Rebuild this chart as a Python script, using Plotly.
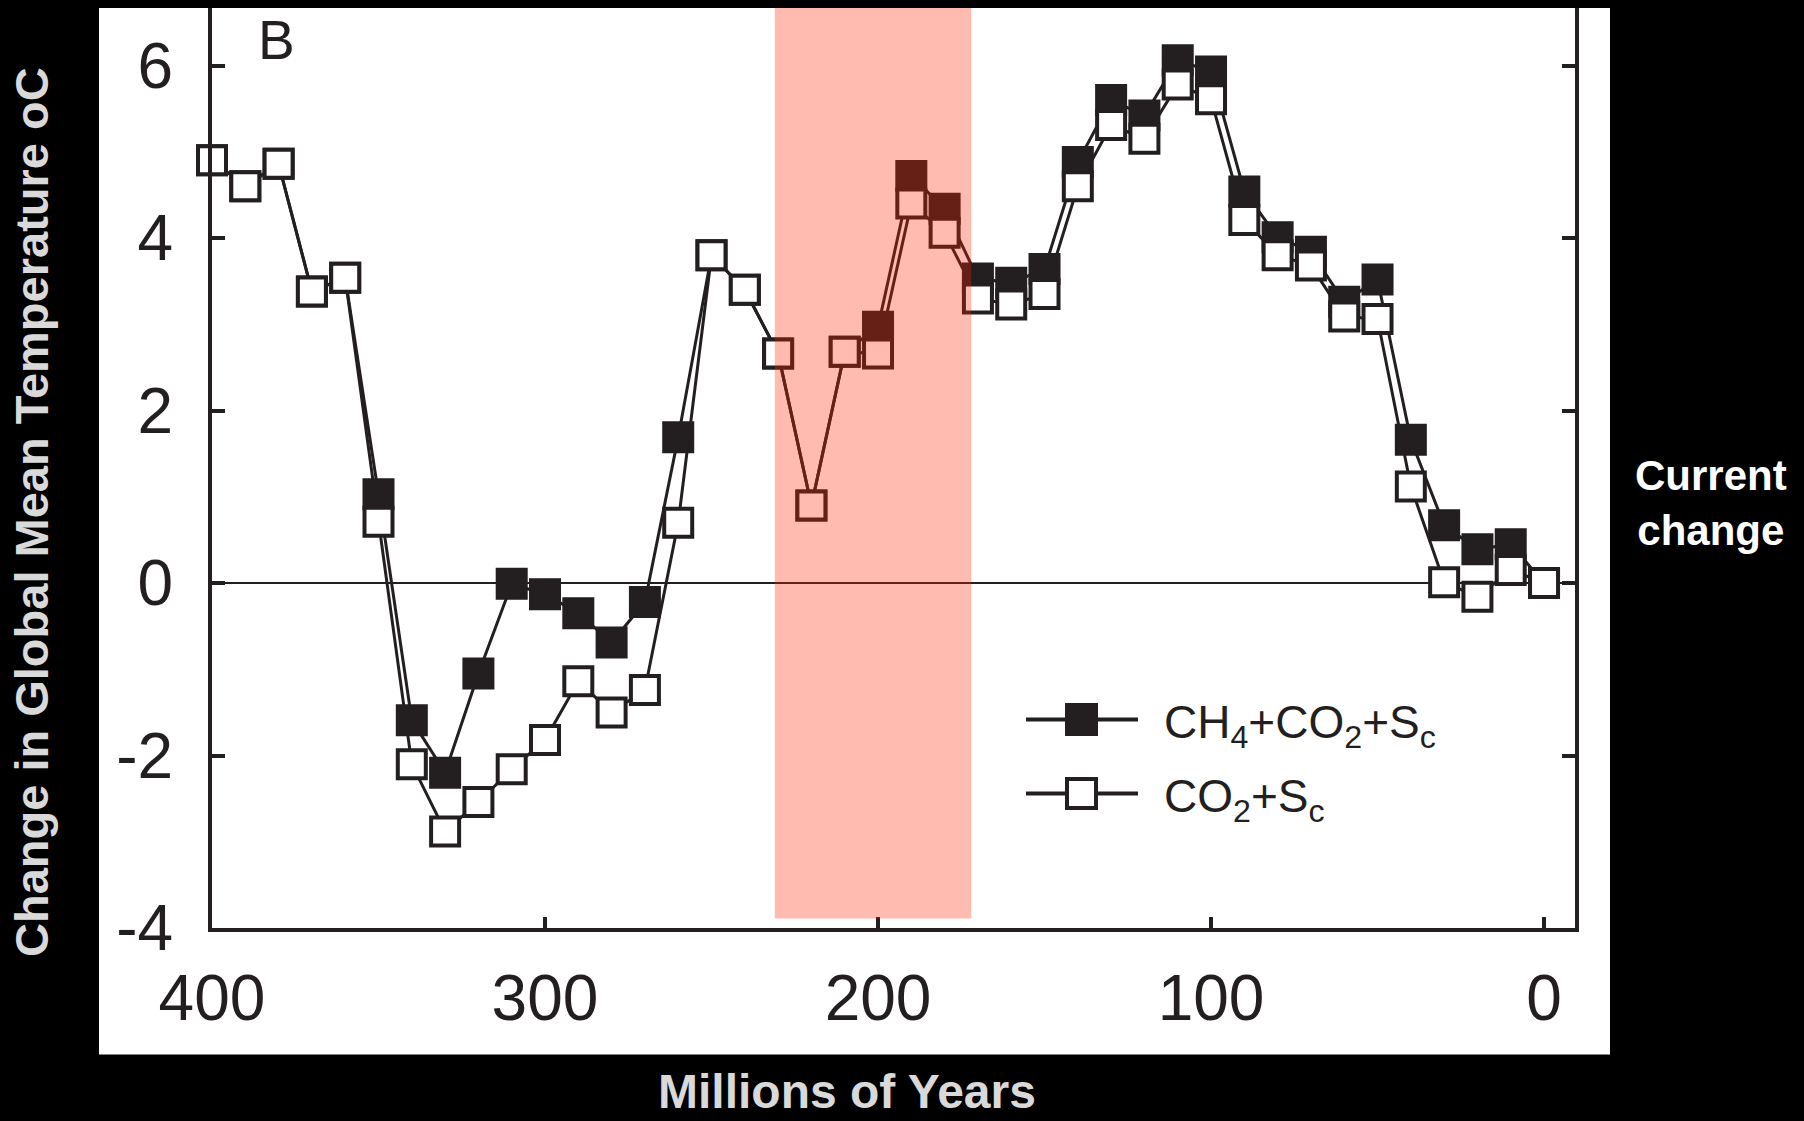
import plotly.graph_objects as go

# Time axis: millions of years before present
age_ma = [400, 390, 380, 370, 360, 350, 340, 330, 320, 310,
          300, 290, 280, 270, 260, 250, 240, 230, 220, 210,
          200, 190, 180, 170, 160, 150, 140, 130, 120, 110,
          100, 90, 80, 70, 60, 50, 40, 30, 20, 10, 0]

# Change in global mean temperature (deg C), CH4 + CO2 + solar constant
ch4_co2_sc = [4.90, 4.60, 4.86, 3.38, 3.54, 1.03, -1.59, -2.20, -1.05, -0.01,
              -0.13, -0.35, -0.69, -0.22, 1.69, 3.80, 3.40, 2.66, 0.90, 2.68,
              2.97, 4.72, 4.34, 3.53, 3.48, 3.64, 4.88, 5.60, 5.42, 6.06,
              5.93, 4.54, 4.01, 3.84, 3.26, 3.52, 1.66, 0.67, 0.39, 0.45, 0.0]

# Change in global mean temperature (deg C), CO2 + solar constant only
co2_sc = [4.90, 4.60, 4.86, 3.38, 3.54, 0.71, -2.10, -2.88, -2.54, -2.16,
          -1.82, -1.14, -1.50, -1.24, 0.70, 3.80, 3.40, 2.66, 0.90, 2.68,
          2.66, 4.40, 4.06, 3.30, 3.23, 3.35, 4.60, 5.31, 5.15, 5.78,
          5.61, 4.21, 3.80, 3.68, 3.09, 3.06, 1.12, 0.01, -0.16, 0.15, 0.0]

series_names = ["CH<sub>4</sub>+CO<sub>2</sub>+S<sub>c</sub>", "CO<sub>2</sub>+S<sub>c</sub>"]

x_tickvals = [400, 300, 200, 100, 0]
x_ticktext = ["400", "300", "200", "100", "0"]
y_tickvals = [-4, -2, 0, 2, 4, 6]
y_ticktext = ["-4", "-2", "0", "2", "4", "6"]

# Highlighted interval (Ma)
band_start, band_end, band_floor = 231, 172, -3.89

INK = "#231f20"
SANS = "Liberation Sans, Arial, Helvetica, sans-serif"
FIG_W, FIG_H = 1804, 1121
L, R, T, B = 212, 229, 8, 193
PW, PH = FIG_W - L - R, FIG_H - T - B
Y_MIN = -4
Y_MAX = Y_MIN + PH / 86.25


def px_x(x):
    return (x - L) / PW


def px_y(y):
    return (T + PH - y) / PH


fig = go.Figure()

fig.add_trace(go.Scatter(
    x=age_ma, y=ch4_co2_sc, name=series_names[0], mode="lines+markers",
    line=dict(color=INK, width=3),
    marker=dict(symbol="square", size=28, color=INK, line=dict(color=INK, width=4)),
    cliponaxis=False, showlegend=False,
))
fig.add_trace(go.Scatter(
    x=age_ma, y=co2_sc, name=series_names[1], mode="lines+markers",
    line=dict(color=INK, width=3),
    marker=dict(symbol="square", size=28, color="white", line=dict(color=INK, width=4)),
    cliponaxis=False, showlegend=False,
))

shapes = [
    # white panel behind the axes
    dict(type="rect", xref="paper", yref="paper",
         x0=px_x(99), x1=px_x(1610), y0=px_y(1054.5), y1=px_y(8),
         fillcolor="white", line=dict(width=0), layer="below"),
    # translucent highlight band
    dict(type="rect", xref="x", yref="y",
         x0=band_start, x1=band_end, y0=band_floor, y1=Y_MAX,
         fillcolor="rgba(255,35,0,0.31)", line=dict(width=0), layer="above"),
]

# legend glyphs
leg_x0, leg_x1, leg_cx = 1026, 1138, 1081.5
leg_rows = [719.5, 793.5]
for i, yy in enumerate(leg_rows):
    shapes.append(dict(type="line", xref="paper", yref="paper",
                       x0=px_x(leg_x0), x1=px_x(leg_x1), y0=px_y(yy), y1=px_y(yy),
                       line=dict(color=INK, width=4)))
    half = 14.5
    shapes.append(dict(type="rect", xref="paper", yref="paper",
                       x0=px_x(leg_cx - half), x1=px_x(leg_cx + half),
                       y0=px_y(yy + half), y1=px_y(yy - half),
                       fillcolor=INK if i == 0 else "white",
                       line=dict(color=INK, width=4)))

annotations = [
    dict(text="B", x=px_x(256), y=px_y(40), xref="paper", yref="paper",
         xanchor="left", yanchor="middle", showarrow=False,
         font=dict(family=SANS, size=55, color=INK)),
    dict(text="Change in Global Mean Temperature oC", textangle=-90,
         x=px_x(32), y=px_y(512), xref="paper", yref="paper",
         xanchor="center", yanchor="middle", showarrow=False,
         font=dict(family=SANS, size=47, color="#d9d9d9", weight="bold")),
    dict(text="Millions of Years", x=px_x(847), y=px_y(1091), xref="paper", yref="paper",
         xanchor="center", yanchor="middle", showarrow=False,
         font=dict(family=SANS, size=48, color="#d9d9d9", weight="bold")),
    dict(text="Current<br>change", x=px_x(1711), y=px_y(503), xref="paper", yref="paper",
         xanchor="center", yanchor="middle", showarrow=False,
         font=dict(family=SANS, size=42, color="white", weight="bold")),
]
for name, yy in zip(series_names, leg_rows):
    annotations.append(dict(text=name, x=px_x(1162), y=px_y(yy + 6),
                            xref="paper", yref="paper", xanchor="left", yanchor="middle",
                            showarrow=False,
                            font=dict(family=SANS, size=46, color=INK)))

fig.update_layout(
    width=FIG_W, height=FIG_H,
    margin=dict(l=L, r=R, t=T, b=B, pad=0),
    paper_bgcolor="black", plot_bgcolor="white",
    showlegend=False,
    shapes=shapes, annotations=annotations,
    xaxis=dict(range=[400, -9.3], tickvals=x_tickvals, ticktext=x_ticktext,
               showgrid=False, zeroline=False, showline=True, linecolor=INK, linewidth=4,
               ticks="inside", ticklen=11, tickwidth=4, tickcolor=INK,
               tickfont=dict(family=SANS, size=64, color=INK),
               ticklabelstandoff=11, mirror=False),
    yaxis=dict(range=[Y_MIN, Y_MAX], tickvals=y_tickvals, ticktext=y_ticktext,
               showgrid=False, zeroline=True, zerolinecolor=INK, zerolinewidth=2,
               showline=True, linecolor=INK, linewidth=4, mirror="ticks",
               ticks="inside", ticklen=13, tickwidth=4, tickcolor=INK,
               tickfont=dict(family=SANS, size=64, color=INK),
               ticklabelstandoff=22),
)

fig.write_html("out.html")
